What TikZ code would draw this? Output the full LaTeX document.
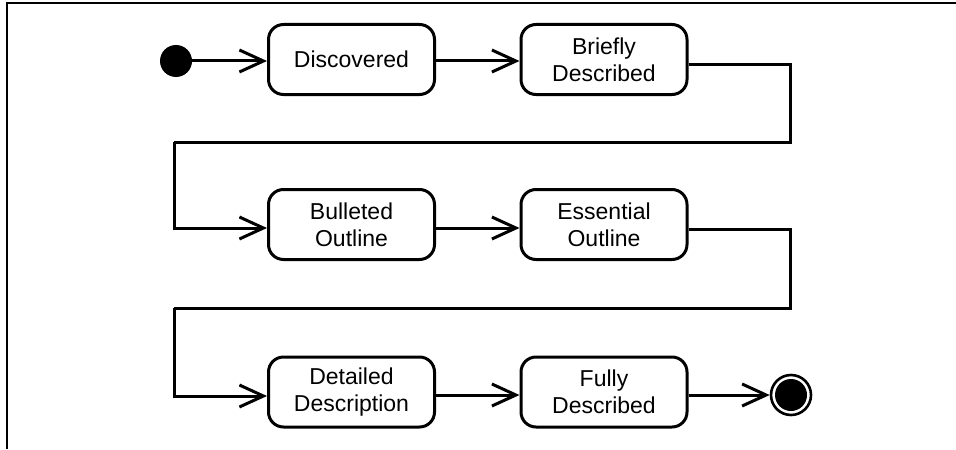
\documentclass[tikz,border=0pt]{standalone}
\usepackage{fontspec}
\setmainfont{Liberation Sans}
\usetikzlibrary{arrows.meta,positioning}

\tikzset{
  stbox/.style={draw, line width=1.5pt, rounded corners=7.5pt, minimum width=83pt,
    minimum height=35pt, align=center, inner sep=0pt,
    font=\fontsize{11.5}{13.7}\selectfont},
  flow/.style={line width=1.5pt, -{Straight Barb[length=12pt,width=11pt]}},
  link/.style={line width=1.5pt}
}

\begin{document}
\begin{tikzpicture}[x=0.5pt, y=-0.5pt]
    \useasboundingbox (0,0) rectangle (956,449);
    \draw[line width=0.9pt] (7,449) -- (7,3) -- (956,3);

    % start and end points
    \node[circle, fill=black, minimum size=16pt, inner sep=0pt] (start) at (176,61) {};
    \node[circle, draw, line width=1.3pt, minimum size=20pt, inner sep=0pt] (stop) at (791,395) {};
    \fill[black] (stop.center) circle (8pt);

    % states
    \node[stbox] (discovered) at (351.5,59.5) {Discovered};
    \node[stbox] (briefly) at (604,59.5) {Briefly\\Described};
    \node[stbox] (bulleted) at (351.5,224.5) {Bulleted\\Outline};
    \node[stbox] (essential) at (604,224.5) {Essential\\Outline};
    \node[stbox] (detailed) at (351.5,392) {Detailed\\Description};
    \node[stbox] (fully) at (604,392) {Fully\\Described};

    \coordinate (turnA) at (790,142);
    \coordinate (backA) at (174,142);
    \coordinate (turnB) at (790,308);
    \coordinate (backB) at (174,308);

    \draw[flow] (start) -- ([yshift=-0.75pt]discovered.west);
    \draw[flow] ([yshift=-0.75pt]discovered.east) -- ([yshift=-0.75pt]briefly.west);
    \draw[link] ([yshift=-2.5pt]briefly.east) -| (turnA) -- (backA);
    \draw[flow] (backA) |- ([yshift=-1.75pt]bulleted.west);
    \draw[flow] ([yshift=-1.75pt]bulleted.east) -- ([yshift=-1.75pt]essential.west);
    \draw[link] ([yshift=-2.25pt]essential.east) -| (turnB) -- (backB);
    \draw[flow] (backB) |- ([yshift=-2pt]detailed.west);
    \draw[flow] ([yshift=-1.5pt]detailed.east) -- ([yshift=-1.5pt]fully.west);
    \draw[flow] ([yshift=-1.5pt]fully.east) -- (stop);
\end{tikzpicture}
\end{document}
